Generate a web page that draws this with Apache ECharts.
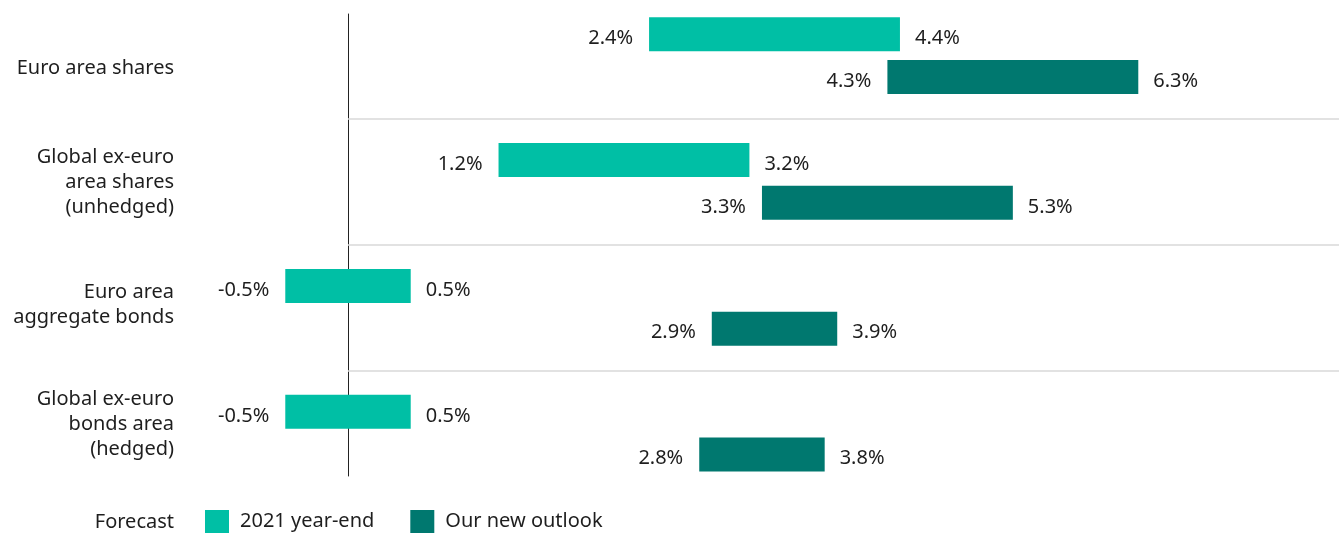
<!DOCTYPE html>
<html>
<head>
<meta charset="utf-8">
<script src="https://cdn.jsdelivr.net/npm/echarts@6/dist/echarts.min.js"></script>
<style>
  html, body { margin: 0; padding: 0; background: #fff; }
  #chart { width: 1339px; height: 533px; }
</style>
</head>
<body>
<div id="chart"></div>
<script>
  // categories top to bottom
  const categories = [
    'Euro area shares',
    'Global ex-euro\narea shares\n(unhedged)',
    'Euro area\naggregate bonds',
    'Global ex-euro\nbonds area\n(hedged)'
  ];
  // forecast ranges, % (low / high)
  const yearEndLow = [2.4, 1.2, -0.5, -0.5];
  const yearEndHigh = [4.4, 3.2, 0.5, 0.5];
  const outlookLow = [4.3, 3.3, 2.9, 2.8];
  const outlookHigh = [6.3, 5.3, 3.9, 3.8];
  const seriesNames = ['2021 year-end', 'Our new outlook'];
  const colors = ['#00bfa5', '#00786f'];

  const font = '"Noto Sans", sans-serif';
  const textColor = '#1e1e1e';

  function rangeItem(offset) {
    return function (params, api) {
      const row = api.value(0);
      const p0 = api.coord([api.value(1), row]);
      const p1 = api.coord([api.value(2), row]);
      const unit = api.size([0, 1])[1];
      const h = unit * 0.27;
      const cy = p0[1] + offset * unit;
      const fmt = v => v.toFixed(1) + '%';
      return {
        type: 'group',
        children: [
          {
            type: 'rect',
            shape: { x: p0[0], y: cy - h / 2, width: p1[0] - p0[0], height: h },
            style: { fill: api.visual('color') }
          },
          {
            type: 'text',
            x: p0[0] - 16, y: cy + 4,
            style: { text: fmt(api.value(1)), fill: textColor, font: '20px ' + font, align: 'right', verticalAlign: 'middle' }
          },
          {
            type: 'text',
            x: p1[0] + 15, y: cy + 4,
            style: { text: fmt(api.value(2)), fill: textColor, font: '20px ' + font, align: 'left', verticalAlign: 'middle' }
          }
        ]
      };
    };
  }

  const chart = echarts.init(document.getElementById('chart'));
  chart.setOption({
    animation: false,
    color: colors,
    textStyle: { fontFamily: font },
    grid: { left: 348, right: 0, top: 14, bottom: 57 },
    xAxis: { type: 'value', min: 0, max: 7.9, show: false },
    yAxis: {
      type: 'value',
      inverse: true,
      min: -0.33,
      max: 3.34,
      splitLine: { show: false },
      axisTick: { show: false },
      axisLine: { show: true, onZero: false, lineStyle: { color: '#222', width: 1 } },
      axisLabel: {
        // label anchors as placed in the source layout
        customValues: [0.1, 1.01, 1.98, 2.93],
        formatter: v => categories[Math.round(v)],
        margin: 174,
        align: 'right',
        color: textColor,
        fontSize: 20,
        lineHeight: 25,
        fontFamily: font
      }
    },
    legend: {
      left: 205,
      top: 510,
      padding: 0,
      itemWidth: 24,
      itemHeight: 23,
      itemGap: 36,
      icon: 'rect',
      data: seriesNames,
      textStyle: { color: textColor, fontSize: 20, fontFamily: font, padding: [0, 0, 0, 6] }
    },
    graphic: [{
      type: 'text',
      right: 1339 - 174,
      top: 512,
      style: { text: 'Forecast', fill: textColor, font: '20px ' + font }
    }],
    series: [
      {
        name: seriesNames[0],
        type: 'custom',
        renderItem: rangeItem(-0.17),
        encode: { x: [1, 2], y: 0 },
        data: yearEndLow.map((v, i) => [i, v, yearEndHigh[i]]),
        markLine: {
          silent: true,
          symbol: 'none',
          label: { show: false },
          lineStyle: { color: '#d9d9d9', type: 'solid', width: 1.5 },
          data: [{ yAxis: 0.5 }, { yAxis: 1.5 }, { yAxis: 2.5 }]
        }
      },
      {
        name: seriesNames[1],
        type: 'custom',
        renderItem: rangeItem(0.17),
        encode: { x: [1, 2], y: 0 },
        data: outlookLow.map((v, i) => [i, v, outlookHigh[i]])
      }
    ]
  });
</script>
</body>
</html>
